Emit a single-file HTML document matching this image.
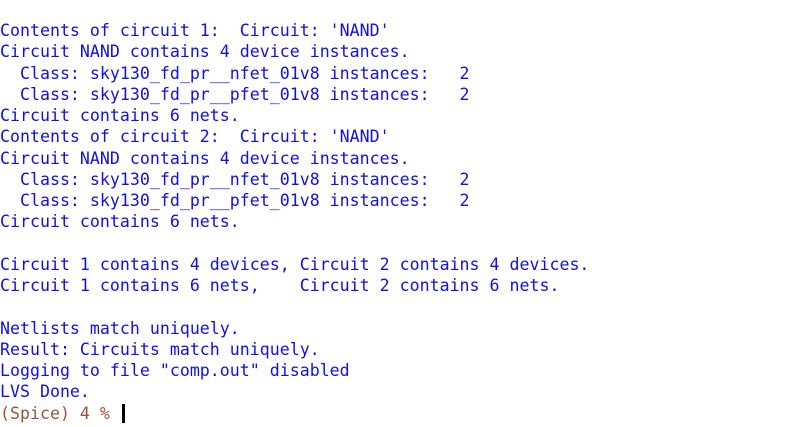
<!DOCTYPE html>
<html><head><style>
html,body{margin:0;padding:0;background:#fff;width:801px;height:427px;overflow:hidden}
pre{margin:0;position:absolute;left:0;top:20px;font-family:"DejaVu Sans Mono","Liberation Mono",monospace;font-size:16.6px;line-height:21.25px;color:#1010e8}
.s{color:#a0523c}
.c{display:inline-block;width:3px;height:19px;background:#000;vertical-align:-4px;margin-left:2px}
</style></head><body>
<pre>Contents of circuit 1:  Circuit: 'NAND'
Circuit NAND contains 4 device instances.
  Class: sky130_fd_pr__nfet_01v8 instances:   2
  Class: sky130_fd_pr__pfet_01v8 instances:   2
Circuit contains 6 nets.
Contents of circuit 2:  Circuit: 'NAND'
Circuit NAND contains 4 device instances.
  Class: sky130_fd_pr__nfet_01v8 instances:   2
  Class: sky130_fd_pr__pfet_01v8 instances:   2
Circuit contains 6 nets.

Circuit 1 contains 4 devices, Circuit 2 contains 4 devices.
Circuit 1 contains 6 nets,    Circuit 2 contains 6 nets.

Netlists match uniquely.
Result: Circuits match uniquely.
Logging to file "comp.out" disabled
LVS Done.
<span class="s">(Spice) 4 %</span> <span class="c"></span></pre>
</body></html>
